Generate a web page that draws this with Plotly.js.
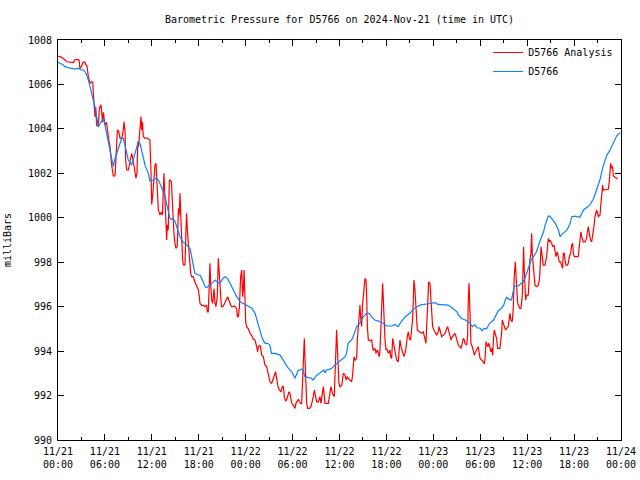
<!DOCTYPE html>
<html><head><meta charset="utf-8">
<script src="https://cdn.plot.ly/plotly-3.0.1.min.js"></script>
<style>html,body{margin:0;padding:0;background:#fff}#chart{width:640px;height:480px}</style>
</head><body><div id="chart"></div>
<script>
const startUTC = Date.UTC(2024, 10, 21, 0, 0, 0);
const seriesNames = ['D5766 Analysis', 'D5766'];
const xTickFormat = '%m/%d<br>%H:%M';

const redHours = [0.0,0.47,0.9,1.1,2.0,2.1,2.5,2.7,2.8,3.0,3.2,3.45,3.55,3.7,3.88,4.09,4.3,4.45,4.52,4.6,4.73,4.82,4.94,5.16,5.29,5.5,5.58,5.7,5.8,6.0,6.2,6.35,6.5,6.65,6.78,6.86,7.07,7.29,7.37,7.5,7.59,7.75,7.93,8.15,8.35,8.44,8.57,8.65,8.78,9.0,9.2,9.42,9.6,9.85,9.97,10.1,10.2,10.3,10.5,10.61,10.7,10.8,10.91,11.1,11.34,11.75,11.9,11.98,12.1,12.28,12.4,12.53,12.62,12.7,12.83,13.04,13.2,13.35,13.47,13.55,13.68,13.81,13.9,13.98,14.1,14.24,14.32,14.5,14.66,14.75,14.83,14.96,15.09,15.25,15.4,15.5,15.6,15.7,15.81,15.94,16.03,16.24,16.37,16.45,16.54,16.67,16.8,16.88,16.97,17.1,17.3,17.5,17.75,17.95,18.07,18.16,18.37,18.6,18.8,19.0,19.1,19.22,19.35,19.43,19.52,19.65,19.78,19.95,20.08,20.2,20.37,20.5,20.6,20.7,20.82,20.9,21.1,21.3,21.5,21.7,22.0,22.2,22.4,22.6,22.85,22.94,23.07,23.2,23.36,23.49,23.62,23.7,23.8,23.9,24.0,24.13,24.34,24.55,24.77,24.98,25.19,25.41,25.53,25.62,25.83,25.96,26.04,26.26,26.47,26.68,26.9,27.11,27.32,27.54,27.75,27.83,27.96,28.09,28.3,28.51,28.69,28.82,28.94,29.11,29.24,29.37,29.54,29.67,29.8,29.88,30.09,30.31,30.43,30.61,30.74,30.86,31.03,31.16,31.24,31.37,31.46,31.5,31.58,31.67,31.8,31.93,32.14,32.35,32.52,32.65,32.78,32.95,33.08,33.29,33.5,33.63,33.8,33.93,34.06,34.14,34.57,34.78,34.91,35.08,35.33,35.42,35.5,35.63,35.76,35.93,36.06,36.3,36.49,36.7,36.85,37.0,37.13,37.3,37.55,37.68,37.77,37.85,38.0,38.19,38.28,38.41,38.53,38.62,38.7,38.83,38.96,39.05,39.15,39.26,39.39,39.47,39.56,39.69,39.9,40.11,40.22,40.32,40.54,40.66,40.83,40.96,41.09,41.18,41.26,41.39,41.52,41.6,41.69,41.82,41.94,42.03,42.24,42.46,42.54,42.67,42.8,42.97,43.09,43.3,43.52,43.65,43.73,43.86,44.07,44.24,44.37,44.5,44.67,44.8,44.93,45.1,45.23,45.35,45.44,45.52,45.65,45.78,45.86,45.95,46.21,46.5,46.72,46.93,47.06,47.14,47.27,47.4,47.57,47.66,47.79,47.91,48.08,48.21,48.42,48.64,48.72,48.85,49.06,49.27,49.49,49.7,49.83,50.0,50.13,50.26,50.43,50.55,50.77,50.9,50.98,51.19,51.41,51.53,51.7,51.83,51.96,52.04,52.26,52.39,52.47,52.56,52.64,52.73,52.81,52.98,53.11,53.24,53.41,53.54,53.67,53.75,53.84,53.97,54.18,54.39,54.52,54.6,54.73,54.81,54.94,55.11,55.24,55.37,55.45,55.58,55.71,55.79,55.96,56.09,56.22,56.52,56.73,56.82,56.95,57.07,57.24,57.37,57.58,57.79,57.92,58.09,58.22,58.35,58.48,58.56,58.65,58.77,58.86,59.07,59.2,59.37,59.46,59.54,59.63,59.71,59.8,59.93,60.14,60.27,60.35,60.48,60.57,60.65,60.78,60.91,61.0,61.21,61.42,61.55,61.64,61.77,61.85,61.98,62.06,62.28,62.49,62.62,62.7,62.83,62.91,63.13,63.26,63.43,63.55,63.68,63.85,63.98,64.1,64.28,64.4,64.53,64.62,64.75,64.83,64.96,65.17,65.26,65.39,65.56,65.69,65.82,65.9,66.03,66.32,66.53,66.66,66.75,66.88,66.97,67.1,67.18,67.4,67.6,67.7,67.82,67.95,68.1,68.25,68.37,68.45,68.54,68.67,68.88,69.1,69.31,69.4,69.52,69.65,69.73,69.95,70.16,70.38,70.5,70.59,70.68,70.8,70.93,71.02,71.23,71.44,71.57];

const redPressure = [1007.28,1007.22,1007.1,1007.02,1006.98,1007.1,1007.13,1007.1,1006.73,1006.8,1007.0,1007.0,1006.88,1006.85,1006.35,1006.05,1006.12,1006.1,1005.6,1005.15,1004.55,1005.0,1004.17,1004.1,1004.93,1005.08,1004.55,1004.3,1004.75,1004.17,1004.3,1003.72,1003.5,1003.2,1002.6,1002.38,1001.88,1001.88,1002.38,1003.58,1003.95,1003.9,1003.58,1003.58,1003.95,1004.32,1003.9,1002.6,1002.15,1002.15,1002.45,1002.9,1002.6,1002.0,1001.78,1002.0,1003.42,1003.2,1003.95,1004.55,1003.95,1004.32,1003.65,1003.58,1003.6,1003.5,1002.0,1000.6,1000.95,1001.92,1002.37,1002.45,1001.92,1001.55,1000.35,1000.12,1000.25,1000.12,1001.55,1002.0,1000.8,999.6,999.0,999.68,999.45,1001.7,1001.7,1001.62,1000.35,999.82,999.3,998.85,998.62,998.7,1000.42,1000.12,1001.1,1000.1,998.9,998.1,997.88,997.88,999.52,1000.2,999.45,998.77,998.32,997.95,997.5,997.35,997.35,997.12,996.9,996.75,996.45,996.15,996.05,996.07,996.0,996.07,995.77,995.77,997.05,997.95,997.05,996.3,996.15,996.8,996.15,996.0,996.45,998.18,997.65,996.95,996.27,996.0,996.0,996.15,996.37,996.45,996.15,996.0,996.0,996.03,995.9,995.55,995.55,996.0,997.35,997.65,996.45,996.75,997.65,996.07,995.3,995.1,995.0,994.8,994.7,994.53,994.5,994.2,993.97,994.2,994.27,994.05,993.82,993.75,993.37,993.3,993.0,992.62,992.55,992.77,993.0,993.07,992.77,992.47,992.25,992.17,992.4,992.4,991.95,991.75,991.8,991.95,992.17,992.1,991.72,991.65,991.57,991.42,991.65,991.8,991.83,991.72,991.65,991.65,992.4,993.75,993.9,994.57,993.75,992.4,991.65,991.42,991.42,991.5,991.72,991.95,992.25,991.95,991.72,991.72,991.95,991.65,992.1,992.4,991.95,991.65,991.65,992.1,992.4,992.1,991.95,992.85,994.05,994.95,993.9,992.55,992.4,992.47,993.0,992.92,992.7,992.85,992.77,992.7,992.62,992.92,993.52,993.75,993.6,993.67,994.5,995.17,996.0,996.07,995.55,995.1,996.15,996.6,996.75,997.27,997.2,996.6,995.1,994.5,994.47,994.5,994.2,994.05,994.12,993.9,994.05,993.82,993.75,994.05,994.8,996.37,997.05,996.37,995.1,994.5,994.05,994.12,993.9,994.05,993.75,993.67,994.57,994.27,993.97,993.6,993.52,994.05,994.5,994.2,993.97,993.75,993.9,994.12,994.65,994.87,994.57,994.5,995.02,995.4,996.3,997.2,996.75,996.07,995.25,994.95,994.87,994.8,994.87,994.57,994.35,995.02,996.3,997.12,997.05,996.45,995.55,995.1,994.95,994.87,994.72,994.87,995.1,994.95,994.65,994.72,994.8,995.02,995.1,994.87,994.65,994.5,994.65,994.72,994.8,994.65,994.5,994.27,994.2,994.12,994.35,994.57,994.5,994.35,994.27,994.72,996.3,997.05,996.3,995.1,994.35,994.2,993.97,993.82,993.97,994.05,994.12,994.2,993.97,993.67,993.6,993.52,993.42,993.6,994.42,994.27,994.2,994.35,994.2,993.97,994.12,993.82,994.65,994.95,994.72,994.57,994.12,994.12,994.8,995.4,995.25,995.1,994.95,995.02,995.1,995.7,995.4,995.32,995.92,997.35,998.02,997.5,996.75,996.22,996.07,995.92,995.92,996.45,997.5,998.7,997.65,996.75,996.3,996.52,996.52,997.35,998.1,998.4,999.3,998.4,997.65,997.35,996.97,996.9,996.97,997.2,997.57,998.7,998.47,998.1,997.87,997.87,998.25,998.77,999.07,998.92,999.0,998.85,998.7,998.77,998.4,998.25,998.47,998.1,998.02,998.02,997.87,997.72,998.4,998.4,998.1,997.87,997.87,997.95,998.25,998.4,998.77,998.85,998.4,998.25,998.25,998.25,998.7,999.15,999.37,999.15,999.0,998.92,998.92,999.07,999.37,999.6,999.3,999.0,998.92,999.15,999.3,999.6,1000.05,1000.35,1000.05,1000.12,1000.5,1001.17,1001.47,1001.25,1001.25,1001.25,1001.28,1001.62,1002.22,1002.45,1002.22,1002.3,1001.88,1001.82,1001.8,1001.75];

const blueHours = [0.0,0.3,0.6,0.9,1.5,2.2,2.6,3.0,3.25,3.5,3.75,4.0,4.22,4.52,4.65,4.82,4.94,5.07,5.16,5.5,5.8,6.01,6.22,6.44,6.65,6.85,7.07,7.29,7.5,7.93,8.14,8.36,8.57,8.99,9.42,9.85,10.27,10.49,10.7,11.13,11.55,11.76,12.19,12.6,12.9,13.25,13.5,13.7,13.9,14.1,14.3,14.5,14.7,15.0,15.2,15.4,15.6,16.0,16.4,16.9,17.1,17.3,17.5,17.8,18.2,18.6,18.8,19.0,19.2,19.65,20.1,20.5,20.8,21.1,21.4,21.7,22.0,22.4,22.85,23.3,23.7,24.1,24.4,24.8,25.2,25.4,25.6,25.85,26.05,26.3,26.5,26.8,27.1,27.3,27.75,28.4,28.8,29.0,29.45,29.9,30.1,30.3,30.5,30.7,31.2,31.4,31.55,32.4,32.6,32.9,33.1,33.7,34.0,34.15,34.35,34.7,35.0,35.4,35.85,36.2,36.7,36.9,37.1,37.55,37.8,38.0,38.2,38.6,39.05,39.5,39.8,40.1,40.5,41.2,41.6,42.0,42.7,43.1,43.5,43.9,44.4,45.0,45.4,45.9,46.3,47.1,47.8,48.2,48.6,49.9,50.3,50.7,51.0,51.2,51.6,52.1,52.7,53.0,53.3,53.6,54.0,54.2,54.5,54.8,55.2,55.7,55.9,56.3,56.7,57.0,57.2,57.4,57.6,58.0,58.2,58.4,58.85,59.5,59.7,60.1,60.3,60.5,60.8,61.2,61.6,62.1,62.3,62.5,62.7,62.9,63.1,63.6,64.0,64.2,64.6,65.1,65.5,65.7,66.1,66.75,67.2,67.6,68.0,68.5,68.9,69.3,69.7,70.2,70.6,71.0,71.5,71.9];

const bluePressure = [1007.0,1006.95,1006.9,1006.8,1006.73,1006.7,1006.72,1006.65,1006.65,1006.55,1006.35,1006.05,1005.75,1005.37,1005.07,1004.85,1004.55,1004.25,1004.1,1004.3,1004.47,1004.17,1003.8,1003.35,1003.12,1002.7,1002.3,1002.67,1002.9,1003.27,1003.57,1003.57,1003.2,1002.6,1002.37,1002.9,1003.42,1003.35,1003.05,1002.37,1002.0,1001.65,1001.7,1001.8,1001.65,1001.4,1001.15,1000.95,1000.65,1000.27,999.98,999.92,999.98,999.8,999.6,999.3,999.15,998.9,998.8,998.6,998.25,997.8,997.5,997.45,997.4,997.1,996.9,996.85,996.9,997.05,997.2,997.05,997.1,997.27,997.35,997.25,997.05,996.75,996.45,996.22,996.15,996.07,996.0,995.93,995.7,995.45,995.17,994.9,994.65,994.45,994.35,994.35,994.27,993.9,993.9,993.82,993.6,993.45,993.23,993.07,992.95,992.78,992.95,993.12,993.2,993.1,992.85,992.78,992.7,992.85,992.92,993.07,993.15,993.02,993.15,993.18,993.23,993.37,993.52,993.6,993.75,993.9,994.35,994.5,994.7,994.87,995.1,995.25,995.55,995.7,995.7,995.55,995.4,995.33,995.25,995.13,995.13,995.2,995.1,995.33,995.55,995.7,995.88,996.0,996.07,996.12,996.15,996.18,996.1,996.07,995.97,995.85,995.78,995.63,995.47,995.4,995.25,995.1,995.18,995.05,995.03,994.92,995.02,995.0,995.25,995.4,995.55,995.82,995.93,996.07,996.3,996.42,996.35,996.3,996.67,996.93,996.93,997.12,997.27,997.65,997.87,998.1,998.25,998.47,998.92,999.37,999.67,999.9,1000.07,1000.07,999.97,999.75,999.45,999.15,999.3,999.45,999.75,1000.05,1000.07,1000.02,1000.35,1000.47,1000.57,1000.87,1001.25,1001.7,1002.3,1002.82,1003.05,1003.35,1003.72,1003.82];

const toTime = h => startUTC + h * 3600000;

const traces = [
  {
    x: redHours.map(toTime), y: redPressure, type: 'scatter', mode: 'lines',
    name: seriesNames[0], line: {color: '#ff0000', width: 1.2}
  },
  {
    x: blueHours.map(toTime), y: bluePressure, type: 'scatter', mode: 'lines',
    name: seriesNames[1], line: {color: '#0a80ff', width: 1.2}
  }
];

const font = {family: 'DejaVu Sans Mono, monospace', size: 10, color: '#000'};

const layout = {
  width: 640, height: 480,
  margin: {l: 58, r: 19, t: 40, b: 40},
  paper_bgcolor: '#fff', plot_bgcolor: '#fff',
  font: font,
  title: {text: 'Barometric Pressure for D5766 on 2024-Nov-21 (time in UTC)',
          x: 0.5, xref: 'paper', xanchor: 'center', y: 1 - 19/480, yref: 'container', yanchor: 'middle',
          font: font},
  showlegend: true,
  legend: {x: 0.995, xanchor: 'right', y: 1.005, yanchor: 'top', bgcolor: 'rgba(0,0,0,0)',
           borderwidth: 0, font: font, tracegroupgap: 0},
  xaxis: {
    type: 'date',
    range: [toTime(0), toTime(72)],
    tickmode: 'linear', tick0: toTime(0), dtick: 6 * 3600000,
    tickformat: xTickFormat,
    ticks: 'inside', ticklen: 6, tickcolor: '#000', tickwidth: 1,
    minor: {tickmode: 'linear', tick0: toTime(0), dtick: 3 * 3600000, ticks: 'inside', ticklen: 3, tickcolor: '#000', showgrid: false},
    showline: true, linecolor: '#000', linewidth: 1, mirror: 'allticks',
    showgrid: false, zeroline: false, fixedrange: true,
    ticklabelstandoff: 2,
    tickfont: font
  },
  yaxis: {
    range: [990, 1008], tickmode: 'linear', tick0: 990, dtick: 2,
    ticks: 'inside', ticklen: 6, tickcolor: '#000', tickwidth: 1,
    showline: true, linecolor: '#000', linewidth: 1, mirror: 'allticks',
    showgrid: false, zeroline: false, fixedrange: true,
    ticklabelstandoff: 3,
    title: {text: 'milliBars', font: font, standoff: 14},
    tickfont: font
  }
};

Plotly.newPlot('chart', traces, layout, {staticPlot: true, displayModeBar: false});
</script>
</body></html>
